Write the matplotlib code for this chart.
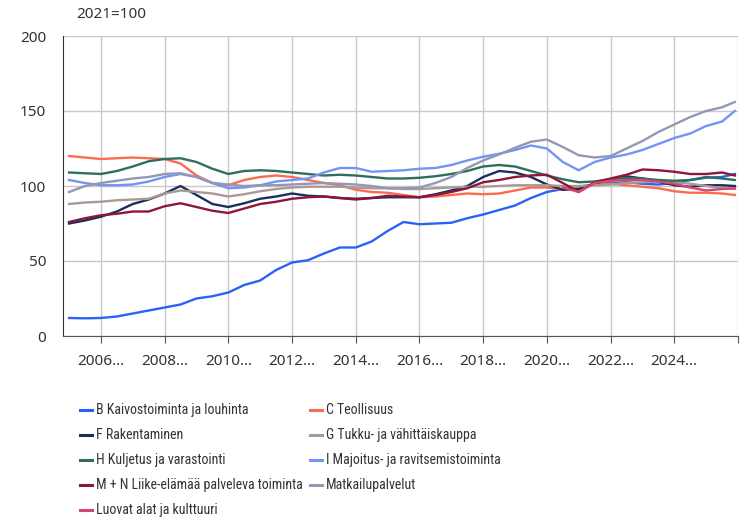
import matplotlib
matplotlib.use("Agg")
import matplotlib.pyplot as plt
from matplotlib.lines import Line2D

plt.rcParams['font.family'] = ['Noto Sans', 'DejaVu Sans']

years = [2005.0, 2005.5, 2006.0, 2006.5, 2007.0, 2007.5, 2008.0, 2008.5, 2009.0, 2009.5,
         2010.0, 2010.5, 2011.0, 2011.5, 2012.0, 2012.5, 2013.0, 2013.5, 2014.0, 2014.5,
         2015.0, 2015.5, 2016.0, 2016.5, 2017.0, 2017.5, 2018.0, 2018.5, 2019.0, 2019.5,
         2020.0, 2020.5, 2021.0, 2021.5, 2022.0, 2022.5, 2023.0, 2023.5, 2024.0, 2024.5,
         2025.0, 2025.5, 2025.9]

kaivos = [12, 11.8, 12, 13, 15, 17, 19, 21, 25, 26.5,
          29, 34, 37, 44, 49, 50.5, 55, 59, 59, 63,
          70, 76, 74.5, 75, 75.5, 78.5, 81, 84, 87, 92,
          96, 98, 99.5, 101, 102, 102.5, 101.5, 101, 102, 104,
          105.5, 106, 108]
teollisuus = [120, 119, 118, 118.5, 119, 118.5, 118, 115, 107, 102,
              100.5, 104, 106, 107, 106, 104, 102, 100.5, 97.5, 96,
              95.5, 94, 92.5, 93, 94, 95, 94.5, 95, 97, 99,
              99, 97.5, 99, 101, 101.5, 100.5, 99.5, 98.5, 96.5, 95.5,
              95.5, 95, 94]
rakentaminen = [75, 77, 79.5, 83, 88, 91, 95, 100, 94, 88,
                86, 88.5, 91.5, 93, 95, 93.5, 93, 92, 91.5, 92,
                92.5, 92.5, 92.5, 94.5, 97, 100, 106, 110, 109, 106,
                101, 97.5, 98, 101.5, 104.5, 106.5, 105, 103, 100.5, 99.5,
                100.5, 100.5, 100]
kauppa = [88, 89, 89.5, 90.5, 91, 91.5, 95, 97, 96, 95,
          93, 94.5, 96.5, 98, 99, 99.5, 99.5, 99.5, 99, 98.5,
          98.5, 98, 98, 98.5, 99, 99.5, 99.5, 100, 100.5, 100.5,
          100.5, 100, 100, 100.5, 101, 102, 102.5, 103, 102.5, 101.5,
          100, 98.5, 98]
kuljetus = [109, 108.5, 108, 110, 113, 116.5, 118, 118.5, 116, 111.5,
            108, 110, 110.5, 110, 109, 108, 107, 107.5, 107, 106,
            105, 105, 105.5, 106.5, 108, 110, 113, 114, 113, 110,
            107, 104.5, 102.5, 103, 104.5, 105.5, 105, 104, 103.5, 104,
            106, 105, 104]
majoitus = [104, 102, 100.5, 100.5, 101, 103, 106, 108, 106, 102,
            98.5, 99, 100.5, 103, 104, 105, 109, 112, 112, 109.5,
            110, 110.5, 111.5, 112, 114, 117, 119.5, 121.5, 124, 127,
            125, 116, 110.5, 116, 119, 121, 124, 128, 132, 135,
            140, 143, 150]
liike = [76, 78.5, 80.5, 81.5, 83, 83, 86.5, 88.5, 86, 83.5,
         82, 85, 88, 89.5, 91.5, 92.5, 93, 92, 91, 92,
         93.5, 93, 92.5, 94, 96, 98.5, 102.5, 104, 106, 107,
         107.5, 102, 96, 102.5, 105, 107.5, 111, 110.5, 109.5, 108,
         108, 109, 107]
matkailu = [96, 100, 102, 103.5, 105, 106, 108, 108.5, 106, 102,
            101, 100, 100.5, 100.5, 101, 101.5, 102, 101.5, 101, 100,
            98.5, 98.5, 99, 102, 106, 112, 117, 121, 125.5, 129.5,
            131, 126, 120.5, 119, 120, 125, 130, 136, 141, 146,
            150, 152.5, 156]
luovat_years = [2020.5, 2021.0, 2021.5, 2022.0, 2022.5, 2023.0, 2023.5, 2024.0, 2024.5,
                2025.0, 2025.5, 2025.9]
luovat = [99, 96, 102, 103.5, 104, 104, 103, 101.5, 99, 97, 98, 98.5]

series = [
    ("B Kaivostoiminta ja louhinta", years, kaivos, "#2a62f5"),
    ("C Teollisuus", years, teollisuus, "#fa6c4f"),
    ("F Rakentaminen", years, rakentaminen, "#1b2f5e"),
    ("G Tukku- ja vähittäiskauppa", years, kauppa, "#a99a95"),
    ("H Kuljetus ja varastointi", years, kuljetus, "#2d6e5c"),
    ("I Majoitus- ja ravitsemistoiminta", years, majoitus, "#7394f2"),
    ("M + N Liike-elämää palveleva toiminta", years, liike, "#8c1739"),
    ("Matkailupalvelut", years, matkailu, "#9497b5"),
    ("Luovat alat ja kulttuuri", luovat_years, luovat, "#d8456f"),
]

tick_years = [2006, 2008, 2010, 2012, 2014, 2016, 2018, 2020, 2022, 2024, 2026]
tick_labels = ["2006…", "2008…", "2010…", "2012…", "2014…", "2016…",
               "2018…", "2020…", "2022…", "2024…", ""]

W, H = 753, 519
fig = plt.figure(figsize=(W / 100, H / 100), dpi=100)
ax = fig.add_axes([63 / W, 1 - 336 / H, 675 / W, 300 / H])

for name, x, y, color in series:
    ax.plot(x, y, color=color, lw=1.7, solid_joinstyle='round')

ax.set_xlim(2004.81, 2026.0)
ax.set_ylim(0, 200)
ax.set_yticks([0, 50, 100, 150, 200])
ax.set_xticks(tick_years)
ax.set_xticklabels(tick_labels)
ax.grid(True, color="#c8c8c8", lw=1)
ax.set_axisbelow(True)
for s in ("top", "right"):
    ax.spines[s].set_visible(False)
ax.spines["left"].set_color("#333333")
ax.spines["bottom"].set_color("#555555")
ax.tick_params(axis="y", length=0, pad=12, labelsize=11, labelcolor="#333333")
ax.tick_params(axis="x", length=5, color="#555555", pad=8, labelsize=11, labelcolor="#333333")

fig.text(76 / W, 1 - 14 / H, "2021=100", fontsize=11, color="#333333", va="center")

# legend drawn by hand: two columns, row-wise order
legend_font = ['Roboto Condensed', 'Roboto', 'DejaVu Sans']
col_x = [80, 310]
row_y0, row_step = 410, 25
for i, (name, _, _, color) in enumerate(series):
    col, row = i % 2, i // 2
    x0 = col_x[col]
    yy = 1 - (row_y0 + row * row_step) / H
    fig.add_artist(Line2D([x0 / W, (x0 + 12) / W], [yy, yy], color=color, lw=2.2,
                          transform=fig.transFigure))
    fig.text((x0 + 16) / W, yy, name, fontsize=10, color="#333333",
             va="center", ha="left", family=legend_font)

fig.savefig("out.png", dpi=100)
